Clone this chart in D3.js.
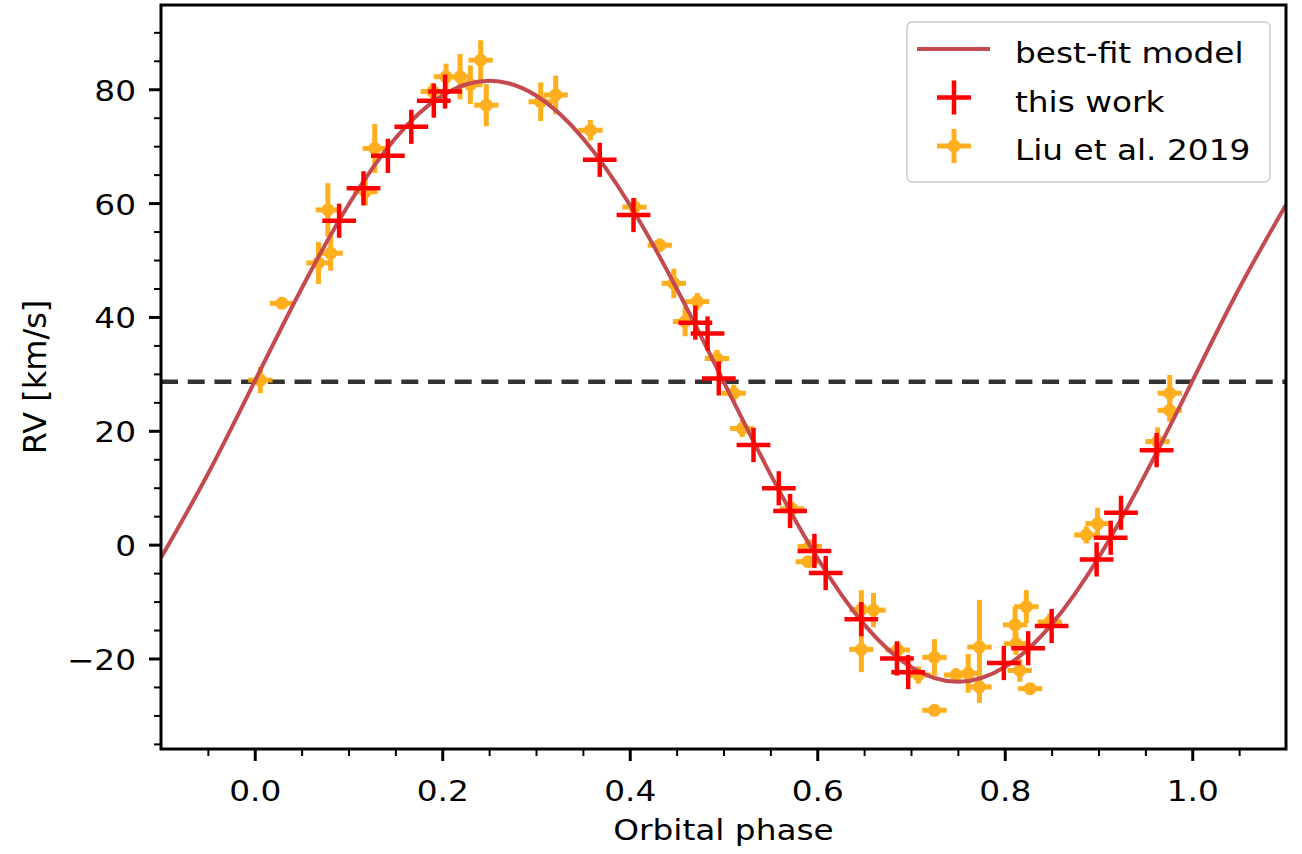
<!DOCTYPE html>
<html lang="en">

<head>
    <meta charset="UTF-8">
    <title>RV curve</title>
    <script src="https://d3js.org/d3.v7.min.js"></script>
    <style>
        body { margin: 0; background: #fff; }
        svg text { font-family: "DejaVu Sans", sans-serif; fill: #000; }
    </style>
</head>

<body>
    <svg id="chart" width="1302" height="854"></svg>

    <script>
        // "this work" points (phase, RV km/s)
        const workPhase = [0.090, 0.116, 0.142, 0.167, 0.191, 0.203, 0.368, 0.404, 0.470, 0.483, 0.495, 0.532, 0.559,
            0.571, 0.597, 0.609, 0.647, 0.685, 0.697, 0.799, 0.825, 0.850, 0.898, 0.913, 0.924, 0.962];
        const workRV = [56.9, 62.6, 68.3, 73.4, 78.0, 79.6, 67.6, 57.9, 39.0, 37.1, 29.2, 17.5, 9.9,
            5.9, -1.1, -5.0, -13.1, -20.0, -22.4, -20.8, -18.2, -14.3, -2.6, 1.2, 5.6, 16.6];
        const workPhaseErr = 0.018;
        const workRVErr = 3.0;

        // Liu et al. 2019 points
        const liuPhase = [0.006, 0.029, 0.068, 0.078, 0.081, 0.118, 0.128, 0.190, 0.204, 0.219, 0.230, 0.241, 0.247,
            0.305, 0.321, 0.358, 0.405, 0.432, 0.447, 0.459, 0.472, 0.493, 0.511, 0.520, 0.573, 0.592, 0.590,
            0.647, 0.660, 0.647, 0.686, 0.708, 0.725, 0.725, 0.748, 0.761, 0.773, 0.773, 0.811, 0.823, 0.812,
            0.816, 0.827, 0.848, 0.887, 0.899, 0.963, 0.976, 0.976];
        const liuRV = [28.9, 42.4, 49.5, 58.8, 51.2, 62.0, 69.6, 79.6, 82.2, 82.2, 80.8, 85.1, 77.2,
            77.8, 79.0, 72.8, 59.3, 52.6, 45.9, 39.2, 42.7, 32.7, 26.6, 20.4, 6.3, -0.3, -3.0,
            -11.4, -11.5, -18.4, -18.5, -22.9, -19.8, -29.1, -22.9, -22.6, -18.0, -25.0, -14.1, -10.9, -17.4,
            -22.1, -25.3, -13.6, 1.7, 3.7, 18.1, 23.6, 26.6];
        const liuRVErr = [2.3, 0.8, 3.7, 4.7, 3.1, 2.4, 4.3, 1.5, 2.3, 4.0, 3.4, 3.5, 3.7,
            3.4, 3.4, 1.8, 1.5, 1.2, 2.6, 2.6, 1.5, 1.5, 1.5, 1.5, 1.2, 1.2, 1.0,
            3.4, 3.0, 4.0, 1.5, 1.5, 3.2, 0.8, 1.2, 3.4, 8.3, 2.8, 3.2, 2.9, 2.0,
            2.0, 1.0, 1.5, 1.5, 2.8, 2.5, 2.0, 3.2];
        const liuPhaseErr = 0.013;

        // best-fit model curve, sampled off the figure
        const modelPhase = [-0.10, -0.05, 0.00, 0.05, 0.10, 0.15, 0.20, 0.25, 0.30, 0.35, 0.40, 0.45, 0.50,
            0.55, 0.60, 0.65, 0.70, 0.75, 0.80, 0.85, 0.90, 0.95, 1.00, 1.05, 1.10];
        const modelRV = [-2.3, 12.4, 28.7, 45.0, 59.7, 71.4, 78.9, 81.5, 78.9, 71.4, 59.7, 45.0, 28.7,
            12.4, -2.3, -14.0, -21.5, -24.1, -21.5, -14.0, -2.3, 12.4, 28.7, 45.0, 59.7];
        const systemicRV = 28.6;

        const xMajor = [0.0, 0.2, 0.4, 0.6, 0.8, 1.0];
        const yMajor = [-20, 0, 20, 40, 60, 80];
        const legendLabels = ["best-fit model", "this work", "Liu et al. 2019"];

        const svg = d3.select("#chart");
        const plotL = 161, plotR = 1286, plotT = 5, plotB = 749;
        const textStretch = 1.17;
        const orange = "#ffa500", red = "#ff0000", modelColor = "#c44a4f";

        const x = d3.scaleLinear().domain([-0.1, 1.1]).range([plotL, plotR]);
        const y = d3.scaleLinear().domain([-35.9, 94.8]).range([plotB, plotT]);

        // widen text horizontally like the reference
        function widen(sel, k) {
            sel.each(function () {
                const w = this.getComputedTextLength();
                d3.select(this).attr("textLength", w * k).attr("lengthAdjust", "spacingAndGlyphs");
            });
        }

        svg.append("defs").append("clipPath").attr("id", "clip")
            .append("rect").attr("x", plotL).attr("y", plotT).attr("width", plotR - plotL).attr("height", plotB - plotT);

        const plot = svg.append("g").attr("clip-path", "url(#clip)");

        // systemic velocity
        plot.append("line")
            .attr("x1", plotL).attr("x2", plotR)
            .attr("y1", y(systemicRV)).attr("y2", y(systemicRV))
            .attr("stroke", "#333").attr("stroke-width", 4.5)
            .attr("stroke-dasharray", "17 9.7");

        // Liu et al. errorbars
        const liu = liuPhase.map((p, i) => ({ p: p, v: liuRV[i], e: liuRVErr[i] }));
        const lg = plot.append("g").attr("opacity", 0.88);
        liu.forEach(d => {
            const g = lg.append("g");
            g.append("line")
                .attr("x1", x(d.p - liuPhaseErr)).attr("x2", x(d.p + liuPhaseErr))
                .attr("y1", y(d.v)).attr("y2", y(d.v))
                .attr("stroke", orange).attr("stroke-width", 5);
            g.append("line")
                .attr("x1", x(d.p)).attr("x2", x(d.p))
                .attr("y1", y(d.v - d.e)).attr("y2", y(d.v + d.e))
                .attr("stroke", orange).attr("stroke-width", 5);
            g.append("circle")
                .attr("cx", x(d.p)).attr("cy", y(d.v)).attr("r", 6.5)
                .attr("fill", orange);
        });

        // model
        const line = d3.line()
            .x((d, i) => x(modelPhase[i]))
            .y(d => y(d))
            .curve(d3.curveNatural);
        plot.append("path")
            .datum(modelRV)
            .attr("d", line)
            .attr("fill", "none")
            .attr("stroke", modelColor)
            .attr("stroke-width", 4);

        // this work
        const work = workPhase.map((p, i) => ({ p: p, v: workRV[i] }));
        const wg = plot.append("g");
        work.forEach(d => {
            wg.append("line")
                .attr("x1", x(d.p - workPhaseErr)).attr("x2", x(d.p + workPhaseErr))
                .attr("y1", y(d.v)).attr("y2", y(d.v))
                .attr("stroke", red).attr("stroke-width", 4.5);
            wg.append("line")
                .attr("x1", x(d.p)).attr("x2", x(d.p))
                .attr("y1", y(d.v - workRVErr)).attr("y2", y(d.v + workRVErr))
                .attr("stroke", red).attr("stroke-width", 4.5);
        });

        // axes
        const xMinor = d3.range(-0.05, 1.1, 0.05).filter(v => xMajor.every(m => Math.abs(m - v) > 1e-6));
        const yMinor = d3.range(-35, 95, 5).filter(v => yMajor.indexOf(v) < 0);

        const xa = svg.append("g").attr("transform", `translate(0,${plotB})`);
        xa.append("g").call(d3.axisBottom(x).tickValues(xMinor).tickSize(7).tickFormat(""));
        const xMaj = xa.append("g").call(d3.axisBottom(x).tickValues(xMajor).tickSize(12).tickFormat(d3.format(".1f")));
        xa.selectAll(".domain").remove();

        const ya = svg.append("g").attr("transform", `translate(${plotL},0)`);
        ya.append("g").call(d3.axisLeft(y).tickValues(yMinor).tickSize(7).tickFormat(""));
        const yMaj = ya.append("g").call(d3.axisLeft(y).tickValues(yMajor).tickSize(12));
        ya.selectAll(".domain").remove();

        svg.selectAll(".tick line").attr("stroke", "#000").attr("stroke-width", 2);
        xMaj.selectAll(".tick line").attr("stroke-width", 3);
        yMaj.selectAll(".tick line").attr("stroke-width", 3);

        xMaj.selectAll(".tick text").attr("font-size", 28).attr("dy", null).attr("y", 51.7);
        yMaj.selectAll(".tick text").attr("font-size", 28).attr("dy", null).attr("y", 11).attr("x", -25);
        widen(svg.selectAll(".tick text"), textStretch);

        // frame
        svg.append("rect")
            .attr("x", plotL).attr("y", plotT)
            .attr("width", plotR - plotL).attr("height", plotB - plotT)
            .attr("fill", "none").attr("stroke", "#000").attr("stroke-width", 3);

        // axis labels
        svg.append("text")
            .attr("x", (plotL + plotR) / 2).attr("y", 840)
            .attr("text-anchor", "middle").attr("font-size", 28)
            .text("Orbital phase")
            .call(widen, textStretch);

        svg.append("text")
            .attr("transform", `translate(46,${(plotT + plotB) / 2}) rotate(-90)`)
            .attr("text-anchor", "middle").attr("font-size", 32)
            .text("RV [km/s]");

        // legend
        const legend = svg.append("g");
        legend.append("rect")
            .attr("x", 907).attr("y", 22).attr("width", 363).attr("height", 160)
            .attr("rx", 5)
            .attr("fill", "#fff").attr("fill-opacity", 0.8)
            .attr("stroke", "#ccc").attr("stroke-width", 1.5);

        const rowY = [49, 97.5, 146];
        const hx = 954;
        legend.append("line")
            .attr("x1", 917).attr("x2", 990).attr("y1", rowY[0]).attr("y2", rowY[0])
            .attr("stroke", modelColor).attr("stroke-width", 4);
        legend.append("line").attr("x1", hx - 17).attr("x2", hx + 17).attr("y1", rowY[1]).attr("y2", rowY[1])
            .attr("stroke", red).attr("stroke-width", 4.5);
        legend.append("line").attr("x1", hx).attr("x2", hx).attr("y1", rowY[1] - 17).attr("y2", rowY[1] + 17)
            .attr("stroke", red).attr("stroke-width", 4.5);
        const lh = legend.append("g").attr("opacity", 0.88);
        lh.append("line").attr("x1", hx - 17).attr("x2", hx + 17).attr("y1", rowY[2]).attr("y2", rowY[2])
            .attr("stroke", orange).attr("stroke-width", 5);
        lh.append("line").attr("x1", hx).attr("x2", hx).attr("y1", rowY[2] - 17).attr("y2", rowY[2] + 17)
            .attr("stroke", orange).attr("stroke-width", 5);
        lh.append("circle").attr("cx", hx).attr("cy", rowY[2]).attr("r", 6.5).attr("fill", orange);

        legend.selectAll("text.lab")
            .data(legendLabels)
            .enter().append("text")
            .attr("class", "lab")
            .attr("x", 1015)
            .attr("y", (d, i) => rowY[i] + 14)
            .attr("font-size", 28)
            .text(d => d)
            .call(widen, textStretch);
    </script>

</body>

</html>
